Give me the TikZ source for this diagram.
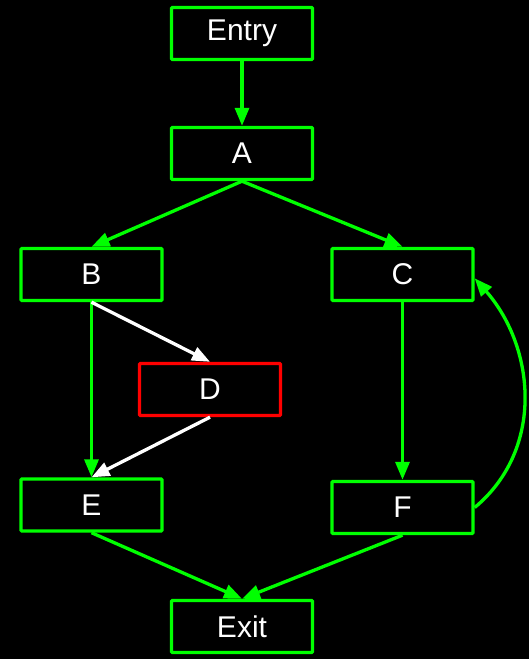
\documentclass[tikz,border=0pt]{standalone}
\usepackage{fontspec}
\setmainfont{Liberation Sans}
\usetikzlibrary{arrows.meta}
\definecolor{lgreen}{RGB}{0,255,0}
\definecolor{lred}{RGB}{255,0,0}
\tikzset{
  blk/.style={draw=lgreen, line width=3.4pt, minimum width=141pt, minimum height=52pt,
    inner sep=0pt, text=white, font=\fontsize{30}{36}\selectfont, rounded corners=1pt},
  redblk/.style={blk, draw=lred},
  garr/.style={draw=lgreen, line width=3.3pt, -{Triangle[length=18pt,width=14pt]}},
  warr/.style={draw=white, line width=3.3pt, -{Triangle[length=18pt,width=14pt]}}
}
\begin{document}
\begin{tikzpicture}[x=1pt,y=-1pt]
\fill[black] (0,0) rectangle (529,659);
\useasboundingbox (0,0) rectangle (529,659);
\node[blk] (entry) at (242,33.5) {Entry};
\node[blk] (A) at (242,153.5) {A};
\node[blk] (B) at (91.5,274.5) {B};
\node[blk] (C) at (402.5,274.5) {C};
\node[redblk] (D) at (210,389.5) {D};
\node[blk] (E) at (91.5,505) {E};
\node[blk] (F) at (402.5,507.5) {F};
\node[blk] (exit) at (242,626.5) {Exit};
\draw[garr] (entry.south) -- (A.north);
\draw[garr] (A.south) -- (B.north);
\draw[garr] (A.south) -- (C.north);
\draw[garr] (B.south) -- (E.north);
\draw[warr] (B.south) -- (D.north);
\draw[warr] (D.south) -- (E.north);
\draw[garr] (C.south) -- (F.north);
\draw[garr] (E.south) -- (exit.north);
\draw[garr] (F.south) -- (exit.north);
\draw[garr] (F.east) .. controls (545,449) and (535,347) .. (C.-3);
\end{tikzpicture}
\end{document}
